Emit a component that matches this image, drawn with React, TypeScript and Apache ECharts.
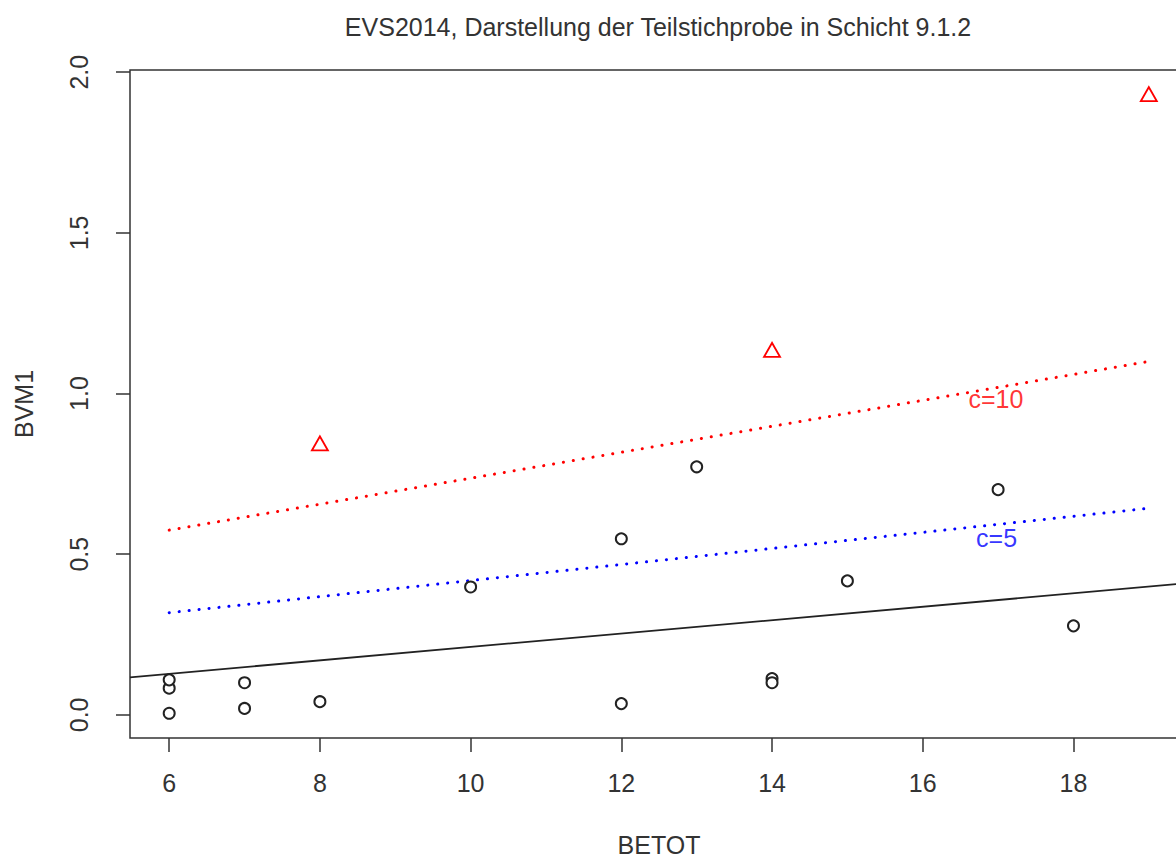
import React, { useEffect, useRef } from "react";
import * as echarts from "echarts";

// Data
const circleX = [6, 6, 6, 7, 7, 8, 10, 12, 12, 13, 14, 14, 15, 17, 18];
const circleY = [0.005, 0.083, 0.109, 0.02, 0.1, 0.041, 0.398, 0.548, 0.035, 0.772, 0.113, 0.1, 0.417, 0.701, 0.277];
const triangleX = [8, 14, 19];
const triangleY = [0.845, 1.136, 1.932];
const fitX = [5.48, 19.52];
const fitY = [0.117, 0.41];
const c5X = [6, 19];
const c5Y = [0.318, 0.643];
const c10X = [6, 19];
const c10Y = [0.575, 1.1];
const xTicks = [6, 8, 10, 12, 14, 16, 18];
const yTicks = [0, 0.5, 1, 1.5, 2];
const c10Label = { x: 16.97, y: 0.983, text: "c=10" };
const c5Label = { x: 16.98, y: 0.551, text: "c=5" };

const FONT = "'Liberation Sans', Arial, sans-serif";
const INK = "#333333";

const zip = (xs: number[], ys: number[]) => xs.map((x, i) => [x, ys[i]]);

export default function App() {
  const ref = useRef<HTMLDivElement>(null);
  useEffect(() => {
    if (!ref.current) return;
    const chart = echarts.init(ref.current, null, { renderer: "svg" });
    chart.setOption({
      animation: false,
      backgroundColor: "#ffffff",
      graphic: [
        {
          type: "text",
          x: 658,
          y: 27,
          style: {
            text: "EVS2014, Darstellung der Teilstichprobe in Schicht 9.1.2",
            fill: INK,
            font: `25px ${FONT}`,
            textAlign: "center",
            textVerticalAlign: "middle",
          },
        },
      ],
      grid: {
        left: 130,
        top: 70,
        width: 1058,
        height: 668,
        show: true,
        borderColor: INK,
        borderWidth: 1.5,
        backgroundColor: "transparent",
        containLabel: false,
        outerBoundsMode: "none",
      },
      xAxis: {
        type: "value",
        min: 5.48,
        max: 19.52,
        name: "BETOT",
        nameLocation: "middle",
        nameGap: 94,
        nameTextStyle: { fontFamily: FONT, fontSize: 25, color: INK },
        splitLine: { show: false },
        axisLine: { show: false, onZero: false },
        axisTick: {
          show: true,
          inside: false,
          length: 14,
          customValues: xTicks,
          lineStyle: { color: INK, width: 1.5 },
        },
        axisLabel: {
          customValues: xTicks,
          margin: 32,
          fontFamily: FONT,
          fontSize: 25,
          color: INK,
        },
      },
      yAxis: {
        type: "value",
        min: -0.072,
        max: 2.007,
        name: "BVM1",
        nameLocation: "middle",
        nameGap: 94,
        nameRotate: 90,
        nameTextStyle: { fontFamily: FONT, fontSize: 25, color: INK },
        splitLine: { show: false },
        axisLine: { show: false, onZero: false },
        axisTick: {
          show: true,
          inside: false,
          length: 14,
          customValues: yTicks,
          lineStyle: { color: INK, width: 1.5 },
        },
        axisLabel: {
          customValues: yTicks,
          rotate: 90,
          margin: 39,
          fontFamily: FONT,
          fontSize: 25,
          color: INK,
          formatter: (v: number) => v.toFixed(1),
        },
      },
      series: [
        {
          type: "line",
          data: zip(fitX, fitY),
          showSymbol: false,
          symbol: "none",
          clip: true,
          lineStyle: { color: "#222222", width: 1.8 },
          z: 2,
        },
        {
          type: "line",
          data: zip(c5X, c5Y),
          showSymbol: false,
          symbol: "none",
          lineStyle: { color: "#0000ff", width: 3, type: [0.1, 9.9], cap: "round" },
          z: 2,
        },
        {
          type: "line",
          data: zip(c10X, c10Y),
          showSymbol: false,
          symbol: "none",
          lineStyle: { color: "#ff0000", width: 3, type: [0.1, 9.9], cap: "round" },
          z: 2,
        },
        {
          type: "scatter",
          data: zip(circleX, circleY),
          symbol: "emptyCircle",
          symbolSize: 11,
          itemStyle: { color: "#222222", borderColor: "#222222", borderWidth: 1.5, opacity: 1 },
          z: 3,
        },
        {
          type: "scatter",
          data: zip(triangleX, triangleY),
          symbol: "triangle",
          symbolSize: [16, 14],
          itemStyle: { color: "#ffffff", borderColor: "#ff0000", borderWidth: 1.8, opacity: 1 },
          z: 3,
        },
        {
          type: "scatter",
          data: [[c10Label.x, c10Label.y]],
          symbolSize: 1,
          itemStyle: { color: "transparent" },
          label: {
            show: true,
            position: "inside",
            formatter: c10Label.text,
            fontFamily: FONT,
            fontSize: 25,
            color: "#ff0000",
          },
          z: 4,
        },
        {
          type: "scatter",
          data: [[c5Label.x, c5Label.y]],
          symbolSize: 1,
          itemStyle: { color: "transparent" },
          label: {
            show: true,
            position: "inside",
            formatter: c5Label.text,
            fontFamily: FONT,
            fontSize: 25,
            color: "#0000ff",
          },
          z: 4,
        },
      ],
    });
    return () => chart.dispose();
  }, []);
  return (
    <div
      ref={ref}
      style={{ position: "absolute", left: 0, top: 0, width: 1176, height: 859 }}
    />
  );
}
